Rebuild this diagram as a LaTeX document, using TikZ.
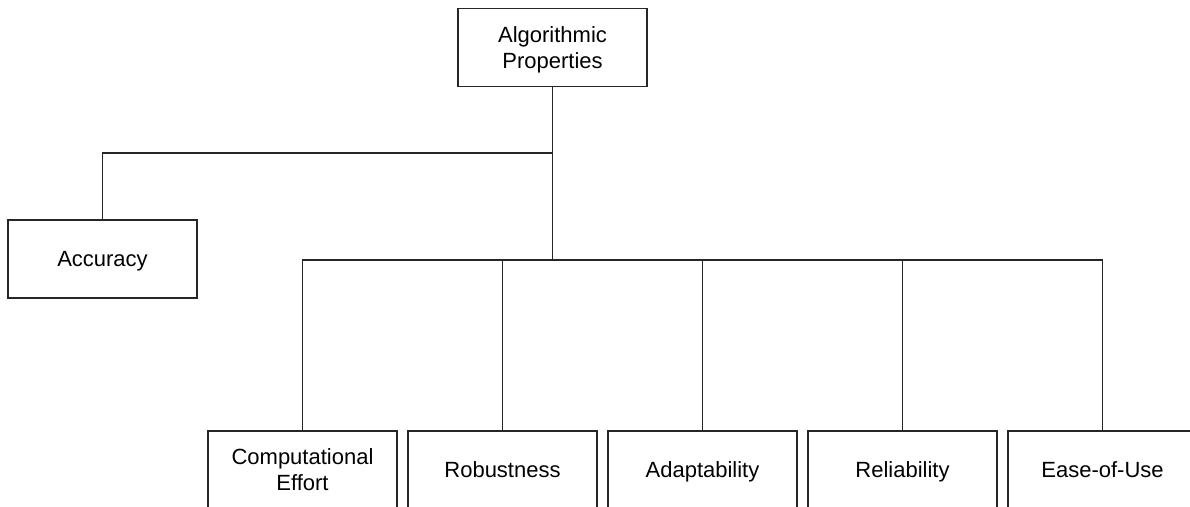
\documentclass[tikz,border=0pt]{standalone}
\usepackage{fontspec}
\setmainfont{Liberation Sans}
\usetikzlibrary{positioning}

\begin{document}
\begin{tikzpicture}[x=1pt, y=-1pt, node distance = 9.7pt,
	prop/.style={draw=black!85, line width=1.3pt, minimum width=189pt, minimum height=78pt,
		inner sep=0pt, text depth=0pt, align=center, font=\fontsize{22}{26}\selectfont},
	link/.style={draw=black!85, line width=1.3pt}]

	\useasboundingbox (0,0) rectangle (1190,506);
	\clip (0,0) rectangle (1190,506);

	\node (alg) [prop] at (552.5,47.5) {Algorithmic\\Properties};
	\node (acc) [prop] at (102.5,259) {Accuracy};
	\node (comp) [prop] at (302.5,470) {Computational\\Effort};
	\node (rob) [prop, right=of comp] {Robustness};
	\node (adap) [prop, right=of rob] {Adaptability};
	\node (rel) [prop, right=of adap] {Reliability};
	\node (ease) [prop, right=of rel] {Ease-of-Use};

	\coordinate (split) at (552.5,153);
	\coordinate (bus) at (552.5,260);

	\path[link] (alg) -- (bus);
	\path[link] (split) -| (acc);
	\foreach \n in {comp,rob,adap,rel,ease}
		\path[link] (\n) |- (bus);

\end{tikzpicture}
\end{document}
